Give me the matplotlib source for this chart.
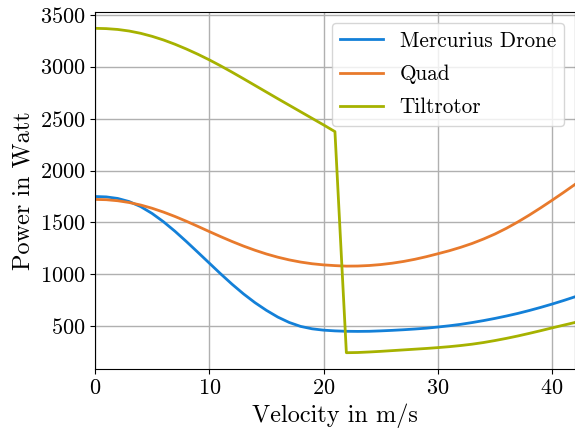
import matplotlib
matplotlib.use('Agg')
import matplotlib.pyplot as plt
import numpy as np

plt.rcParams['font.family'] = 'serif'
plt.rcParams['font.serif'] = ['cmr10']
plt.rcParams['mathtext.fontset'] = 'cm'
plt.rcParams['axes.formatter.use_mathtext'] = True

velocity = np.arange(0, 43)

mercurius = [1750, 1746, 1731, 1701, 1653, 1587, 1507, 1416, 1317, 1214,
             1110, 1006, 906, 813, 729, 655, 590, 538, 500, 477,
             464, 457, 453, 452, 453, 457, 462, 468, 475, 483,
             494, 506, 520, 537, 556, 577, 600, 625, 653, 683,
             715, 749, 785]

quad = [1722, 1719, 1709, 1692, 1668, 1637, 1600, 1558, 1512, 1463,
        1413, 1364, 1317, 1273, 1233, 1197, 1166, 1140, 1119, 1103,
        1092, 1085, 1080, 1081, 1086, 1095, 1108, 1125, 1146, 1171,
        1199, 1228, 1261, 1298, 1341, 1389, 1444, 1505, 1571, 1641,
        1714, 1789, 1866]

tiltrotor = [3368, 3365, 3357, 3342, 3320, 3291, 3256, 3215, 3169, 3119,
             3065, 3007, 2946, 2883, 2819, 2755, 2691, 2628, 2565, 2502,
             2439, 2374, 247, 249, 254, 260, 267, 274, 281, 288,
             296, 305, 316, 329, 345, 364, 385, 408, 433, 459,
             486, 512, 538]

fig = plt.figure(figsize=(5.75, 4.32), dpi=100)
ax = fig.add_axes([0.165, 0.146, 0.835, 0.826])

ax.plot(velocity, mercurius, color='#1380D8', linewidth=2, label='Mercurius Drone')
ax.plot(velocity, quad, color='#E87A2C', linewidth=2, label='Quad')
ax.plot(velocity, tiltrotor, color='#A6B200', linewidth=2, label='Tiltrotor')

ax.set_xlim(0, 42)
ax.set_xticks([0, 10, 20, 30, 40])
ax.set_yticks([500, 1000, 1500, 2000, 2500, 3000, 3500])
ax.set_xlabel('Velocity in m/s', fontsize=17.5)
ax.set_ylabel('Power in Watt', fontsize=17.5)
ax.tick_params(labelsize=16)
ax.grid(True, color='#b0b0b0', linewidth=1)
ax.legend(loc='upper right', fontsize=15.3, labelspacing=0.65)

fig.savefig('out.png', dpi=100)
